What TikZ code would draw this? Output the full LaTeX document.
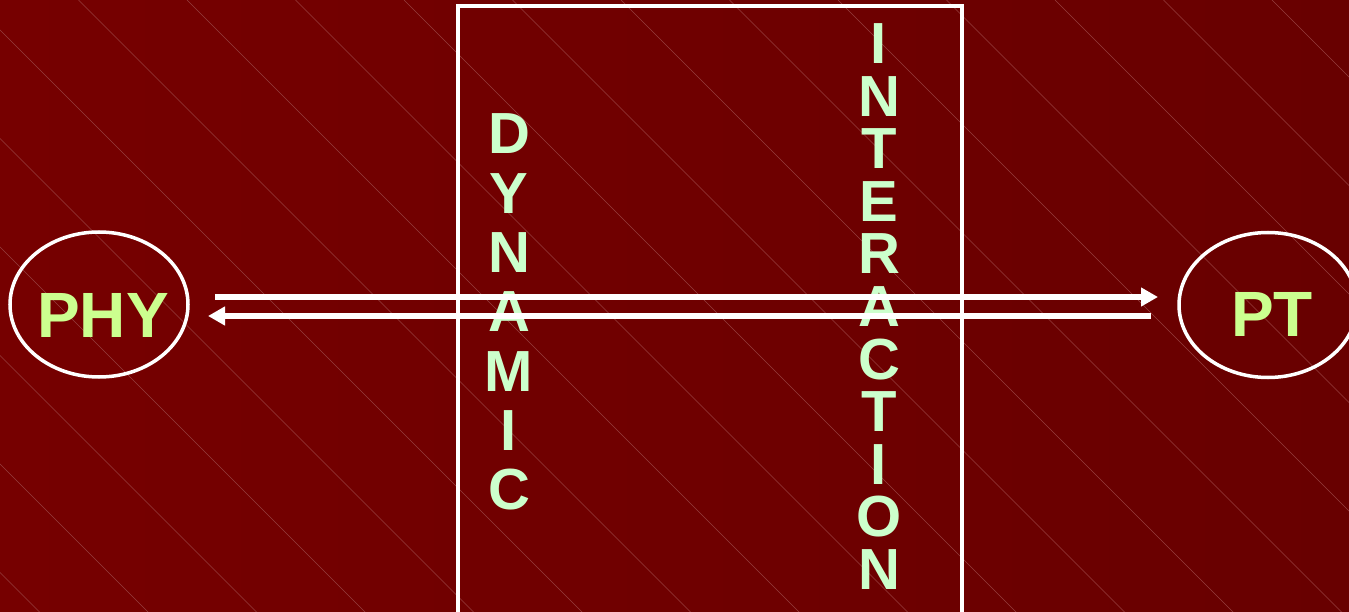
\documentclass[tikz,border=0pt]{standalone}
\usepackage{fontspec}
\setmainfont{Liberation Sans}
\usetikzlibrary{shapes.geometric,arrows.meta}
\definecolor{bgleft}{RGB}{118,0,0}
\definecolor{bgright}{RGB}{104,0,0}
\definecolor{stripe}{RGB}{150,62,62}
\definecolor{mint}{RGB}{204,255,204}
\definecolor{lime}{RGB}{204,255,143}
\tikzset{
  oval/.style={ellipse,draw=white,line width=3.5pt,minimum width=178pt,minimum height=145pt,inner sep=0pt},
  bigword/.style={text=lime,font=\fontsize{64}{70}\selectfont\bfseries,inner sep=0pt,anchor=base},
  letter/.style={text=mint,font=\fontsize{58}{62}\selectfont\bfseries,inner sep=0pt,anchor=base},
  flow/.style={draw=white,line width=6pt,-{Triangle[length=17pt,width=18pt]}},
  frame/.style={draw=white,line width=4pt},
  stripeline/.style={draw=stripe,line width=0.6pt}
}
\begin{document}
\begin{tikzpicture}[x=1pt,y=-1pt]
\useasboundingbox (0,0) rectangle (1349,612);
\clip (0,0) rectangle (1349,612);
\shade[left color=bgleft,right color=bgright] (0,0) rectangle (1349,612);
\foreach \k in {-6,...,12}{
  \pgfmathsetmacro{\sx}{-30+108.5*\k}
  \pgfmathsetmacro{\ex}{\sx+620}
  \draw[stripeline] (\sx,0) -- (\ex,620);
}
\draw[frame] (458,6) rectangle (962,640);
\foreach \ch [count=\i from 0] in {D,Y,N,A,M,I,C}{
  \node[letter] (dyn\i) at (509,{154+59.3*\i}) {\ch};
}
\foreach \ch [count=\i from 0] in {I,N,T,E,R,A,C,T,I,O,N}{
  \node[letter] (int\i) at (879,{64+52.5*\i}) {\ch};
}
\node[oval] (phy) at (99,304.5) {};
\node[oval] (pt) at (1268,305) {};
\node[bigword] (phytext) at (103,337) {PHY};
\node[bigword] (pttext) at (1272,336) {PT};
\coordinate (r1) at (215,297);
\coordinate (r2) at (1158,297);
\coordinate (l1) at (1151,316);
\coordinate (l2) at (208,316);
\draw[flow] (r1) -- (r2);
\draw[flow] (l1) -- (l2);
\end{tikzpicture}
\end{document}
